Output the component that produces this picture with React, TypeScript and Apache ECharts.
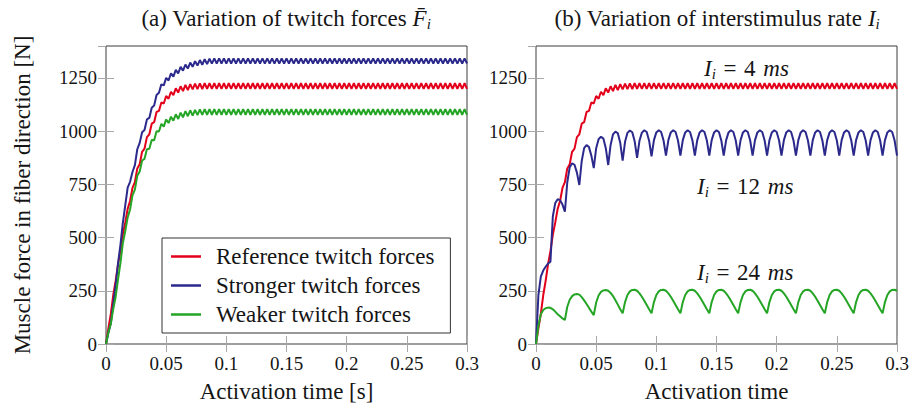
import React, { useEffect, useRef } from 'react';
import * as echarts from 'echarts';

// sampling interval of the simulated force curves [s]
const STEP = 0.002;

// (a) reference twitch forces (also I_i = 4 ms in (b))
const refForce = [
  0, 74, 141, 229, 296, 374, 436, 514, 571, 635,
  672, 733, 760, 825, 845, 903, 918, 972, 985, 1035,
  1042, 1090, 1095, 1135, 1130, 1165, 1152, 1185, 1169, 1201,
  1181, 1211, 1188, 1217, 1193, 1221, 1196, 1223, 1197, 1224, 1198,
  1225, 1199, 1225, 1199, 1225, 1199, 1225, 1199, 1225, 1199, 1225, 1199, 1225, 1199, 1225, 1199, 1225, 1199, 1225, 1199,
  1225, 1199, 1225, 1199, 1225, 1199, 1225, 1199, 1225, 1199, 1225, 1199, 1225, 1199, 1225, 1199, 1225, 1199, 1225, 1199,
  1225, 1199, 1225, 1199, 1225, 1199, 1225, 1199, 1225, 1199, 1225, 1199, 1225, 1199, 1225, 1199, 1225, 1199, 1225, 1199,
  1225, 1199, 1225, 1199, 1225, 1199, 1225, 1199, 1225, 1199, 1225, 1199, 1225, 1199, 1225, 1199, 1225, 1199, 1225, 1199,
  1225, 1199, 1225, 1199, 1225, 1199, 1225, 1199, 1225, 1199, 1225, 1199, 1225, 1199, 1225, 1199, 1225, 1199, 1225, 1199,
  1225, 1199, 1225, 1199, 1225, 1199, 1225, 1199, 1225, 1199,
];

// (a) stronger twitch forces
const strongForce = [
  0, 54, 96, 189, 276, 379, 466, 569, 651, 735,
  762, 808, 840, 915, 945, 995, 1005, 1055, 1062, 1110,
  1120, 1170, 1180, 1220, 1215, 1250, 1238, 1272, 1256, 1288,
  1271, 1302, 1284, 1313, 1294, 1322, 1302, 1329, 1308, 1334,
  1312, 1338, 1315, 1340, 1317,
  1342, 1318, 1342, 1318, 1342, 1318, 1342, 1318, 1342, 1318, 1342, 1318, 1342, 1318, 1342, 1318, 1342, 1318, 1342, 1318,
  1342, 1318, 1342, 1318, 1342, 1318, 1342, 1318, 1342, 1318, 1342, 1318, 1342, 1318, 1342, 1318, 1342, 1318, 1342, 1318,
  1342, 1318, 1342, 1318, 1342, 1318, 1342, 1318, 1342, 1318, 1342, 1318, 1342, 1318, 1342, 1318, 1342, 1318, 1342, 1318,
  1342, 1318, 1342, 1318, 1342, 1318, 1342, 1318, 1342, 1318, 1342, 1318, 1342, 1318, 1342, 1318, 1342, 1318, 1342, 1318,
  1342, 1318, 1342, 1318, 1342, 1318, 1342, 1318, 1342, 1318, 1342, 1318, 1342, 1318, 1342, 1318, 1342, 1318, 1342, 1318,
  1342, 1318, 1342, 1318, 1342, 1318,
];

// (a) weaker twitch forces
const weakForce = [
  0, 54, 96, 164, 221, 304, 381, 474, 531, 595,
  632, 698, 725, 790, 810, 862, 870, 915, 917, 958,
  957, 1000, 998, 1034, 1021, 1055, 1038, 1068, 1049, 1079,
  1057, 1087, 1065, 1094, 1070, 1098, 1073, 1100, 1075, 1102, 1076,
  1103, 1077, 1103, 1077, 1103, 1077, 1103, 1077, 1103, 1077, 1103, 1077, 1103, 1077, 1103, 1077, 1103, 1077, 1103, 1077,
  1103, 1077, 1103, 1077, 1103, 1077, 1103, 1077, 1103, 1077, 1103, 1077, 1103, 1077, 1103, 1077, 1103, 1077, 1103, 1077,
  1103, 1077, 1103, 1077, 1103, 1077, 1103, 1077, 1103, 1077, 1103, 1077, 1103, 1077, 1103, 1077, 1103, 1077, 1103, 1077,
  1103, 1077, 1103, 1077, 1103, 1077, 1103, 1077, 1103, 1077, 1103, 1077, 1103, 1077, 1103, 1077, 1103, 1077, 1103, 1077,
  1103, 1077, 1103, 1077, 1103, 1077, 1103, 1077, 1103, 1077, 1103, 1077, 1103, 1077, 1103, 1077, 1103, 1077, 1103, 1077,
  1103, 1077, 1103, 1077, 1103, 1077, 1103, 1077, 1103, 1077,
];

// (b) I_i = 12 ms
const force12ms = [
  0, 230, 316, 345, 363, 378, 387, 600, 662, 680, 676, 655, 622,
  760, 830, 849, 842, 805, 747,
  860, 920, 935, 925, 885, 826,
  920, 962, 974, 965, 920, 841,
  935, 985, 998, 990, 945, 862,
  950, 992, 1003, 995, 952, 875,
  955, 993, 1004, 996, 955, 882,
  958, 994, 1004, 996, 956, 885,
  958, 994, 1004, 996, 956, 885,
  958, 994, 1004, 996, 956, 885,
  958, 994, 1004, 996, 956, 885,
  958, 994, 1004, 996, 956, 885,
  958, 994, 1004, 996, 956, 885,
  958, 994, 1004, 996, 956, 885,
  958, 994, 1004, 996, 956, 885,
  958, 994, 1004, 996, 956, 885,
  958, 994, 1004, 996, 956, 885,
  958, 994, 1004, 996, 956, 885,
  958, 994, 1004, 996, 956, 885,
  958, 994, 1004, 996, 956, 885,
  958, 994, 1004, 996, 956, 885,
  958, 994, 1004, 996, 956, 885,
  958, 994, 1004, 996, 956, 885,
  958, 994, 1004, 996, 956, 885,
];

// (b) I_i = 24 ms
const force24ms = [
  0, 85, 140, 160, 168, 171, 170, 163, 152, 140, 130, 120, 113,
  175, 208, 225, 233, 235, 232, 220, 205, 188, 170, 152, 136,
  195, 228, 245, 252, 254, 250, 240, 225, 205, 185, 163, 144,
  197, 230, 247, 254, 255, 250, 238, 222, 203, 183, 163, 144,
  197, 230, 247, 254, 255, 250, 238, 222, 203, 183, 163, 144,
  197, 230, 247, 254, 255, 250, 238, 222, 203, 183, 163, 144,
  197, 230, 247, 254, 255, 250, 238, 222, 203, 183, 163, 144,
  197, 230, 247, 254, 255, 250, 238, 222, 203, 183, 163, 144,
  197, 230, 247, 254, 255, 250, 238, 222, 203, 183, 163, 144,
  197, 230, 247, 254, 255, 250, 238, 222, 203, 183, 163, 144,
  197, 230, 247, 254, 255, 250, 238, 222, 203, 183, 163, 144,
  197, 230, 247, 254, 255, 250, 238, 222, 203, 183, 163, 144,
  197, 230, 247, 254, 255, 250,
];

const legendNames = ['Reference twitch forces', 'Stronger twitch forces', 'Weaker twitch forces'];
const xTitleA = 'Activation time [s]';
const xTitleB = 'Activation time';
const yTitle = 'Muscle force in fiber direction [N]';

const RED = '#e3001b';
const BLUE = '#2b2a8c';
const GREEN = '#25a525';
const SERIF = 'Liberation Serif';
const TXT = '#151515';

const toPts = (arr: number[]) => arr.map((v, i) => [i * STEP, v]);

const tickStyle = { show: true, inside: true, length: 8, lineStyle: { color: '#a8a8a8', width: 1 } };

function xAxes(grid: number, name: string) {
  return [
    {
      type: 'value', gridIndex: grid, min: 0, max: 0.3, interval: 0.05, position: 'bottom',
      axisLine: { show: false }, splitLine: { show: false }, axisTick: tickStyle,
      axisLabel: {
        margin: 10, fontSize: 19, color: TXT, fontFamily: SERIF,
        formatter: (v: number) => String(Number(v.toFixed(2))),
      },
      name, nameLocation: 'middle', nameGap: 36,
      nameTextStyle: { fontSize: 23, color: TXT, fontFamily: SERIF },
    },
    {
      type: 'value', gridIndex: grid, min: 0, max: 0.3, interval: 0.05, position: 'top',
      axisLine: { show: false }, splitLine: { show: false }, axisTick: tickStyle,
      axisLabel: { show: false },
    },
  ];
}

function yAxes(grid: number, name?: string) {
  const main: any = {
    type: 'value', gridIndex: grid, min: 0, max: 1400, interval: 250, position: 'left',
    axisLine: { show: false }, splitLine: { show: false }, axisTick: tickStyle,
    axisLabel: {
      margin: 9, fontSize: 19, color: TXT, fontFamily: SERIF, showMaxLabel: false,
      formatter: (v: number) => String(v),
    },
  };
  if (name) {
    main.name = name;
    main.nameLocation = 'middle';
    main.nameGap = 72;
    main.nameRotate = 90;
    main.nameTextStyle = { fontSize: 23, color: TXT, fontFamily: SERIF };
  }
  return [
    main,
    {
      type: 'value', gridIndex: grid, min: 0, max: 1400, interval: 250, position: 'right',
      axisLine: { show: false }, splitLine: { show: false }, axisTick: tickStyle,
      axisLabel: { show: false },
    },
  ];
}

const richMath = {
  rm: { fontSize: 23, fontFamily: SERIF, lineHeight: 26, fill: TXT, color: TXT },
  it: { fontSize: 23, fontFamily: SERIF, fontStyle: 'italic', lineHeight: 26, fill: TXT, color: TXT },
  sub: { fontSize: 15, fontFamily: SERIF, fontStyle: 'italic', lineHeight: 14, verticalAlign: 'bottom', fill: TXT, color: TXT },
};

function mathText(text: string, x: number, y: number, align: string) {
  return {
    type: 'text', x, y, silent: true,
    style: { text, align, verticalAlign: 'middle', rich: richMath, fill: TXT, font: `23px ${SERIF}` },
  };
}

function line(name: string, data: number[], color: string, xi: number, yi: number) {
  return {
    type: 'line', name, xAxisIndex: xi, yAxisIndex: yi, data: toPts(data),
    showSymbol: false, symbol: 'none', silent: true,
    lineStyle: { width: 2, color }, itemStyle: { color }, color,
  };
}

const SP = '\u2004';

export default function App() {
  const ref = useRef<HTMLDivElement>(null);
  useEffect(() => {
    const chart = echarts.init(ref.current!, null, { renderer: 'svg' });
    const gridBase = { top: 46, bottom: 66, show: true, borderColor: '#3c3c3c', borderWidth: 1, backgroundColor: 'transparent', containLabel: false, outerBoundsMode: 'none' };
    chart.setOption({
      animation: false,
      textStyle: { fontFamily: SERIF },
      grid: [
        { ...gridBase, left: 106, right: 447 },
        { ...gridBase, left: 536, right: 17 },
      ],
      xAxis: [...xAxes(0, xTitleA), ...xAxes(1, xTitleB)],
      yAxis: [...yAxes(0, yTitle), ...yAxes(1)],
      legend: {
        show: true, data: legendNames, orient: 'vertical', left: 162, top: 238,
        padding: [7, 16, 7, 9], itemGap: 6, itemWidth: 30, itemHeight: 2.5, icon: 'rect',
        backgroundColor: '#fff', borderColor: '#333', borderWidth: 1, borderRadius: 0,
        selectedMode: false,
        textStyle: { fontSize: 23, fontFamily: SERIF, color: TXT, padding: [0, 0, 0, 10] },
      },
      series: [
        line(legendNames[0], refForce, RED, 0, 0),
        line(legendNames[1], strongForce, BLUE, 0, 0),
        line(legendNames[2], weakForce, GREEN, 0, 0),
        line('I_i = 4 ms', refForce, RED, 2, 2),
        line('I_i = 12 ms', force12ms, BLUE, 2, 2),
        line('I_i = 24 ms', force24ms, GREEN, 2, 2),
      ],
      graphic: [
        mathText('{rm|(a) Variation of twitch forces }{it|F\u0304}{sub|i}', 286, 18, 'center'),
        mathText('{rm|(b) Variation of interstimulus rate }{it|I}{sub|i}', 717, 18, 'center'),
        mathText(`{it|I}{sub|i}{rm|${SP}=${SP}4${SP}}{it|ms}`, 704, 68, 'left'),
        mathText(`{it|I}{sub|i}{rm|${SP}=${SP}12${SP}}{it|ms}`, 697, 186, 'left'),
        mathText(`{it|I}{sub|i}{rm|${SP}=${SP}24${SP}}{it|ms}`, 697, 272, 'left'),
      ],
    });
    return () => chart.dispose();
  }, []);
  return (
    <div
      ref={ref}
      style={{ position: 'fixed', left: 0, top: 0, width: 914, height: 410, background: '#fff' }}
    />
  );
}
